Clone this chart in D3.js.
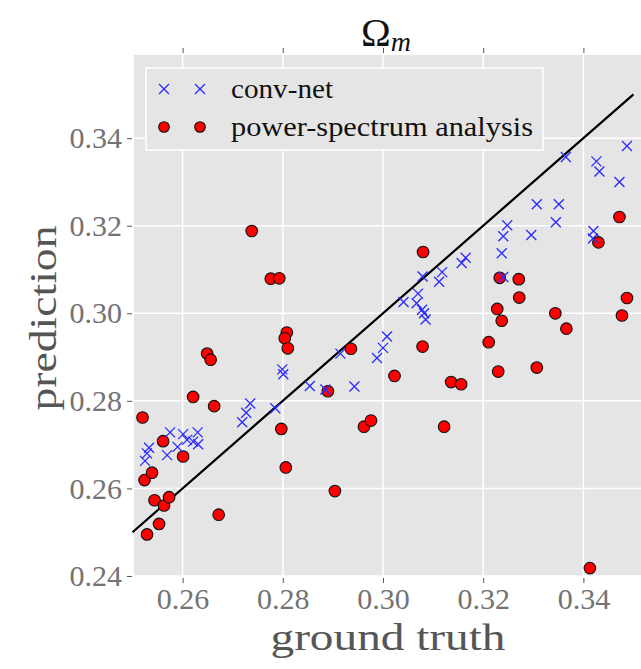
<!DOCTYPE html>
<meta charset="utf-8">
<style>
  body { margin: 0; background: #fff; }
  text { font-family: "Liberation Serif", "DejaVu Serif", serif; }
</style>
<body>
<svg width="641" height="669"></svg>
<script src="https://cdnjs.cloudflare.com/ajax/libs/d3/7.8.5/d3.min.js"></script>
<script>

// ground truth / prediction pairs
var convTruth = [0.2525, 0.2529, 0.2533, 0.2569, 0.2575, 0.2590, 0.2601, 0.2609, 0.2621, 0.2630,
                 0.2631, 0.2719, 0.2727, 0.2735, 0.2785, 0.2799, 0.2801, 0.2854, 0.2885, 0.2943,
                 0.2915, 0.2988, 0.3000, 0.3008, 0.3041, 0.3070, 0.3067, 0.3078, 0.3082, 0.3085,
                 0.3079, 0.3112, 0.3118, 0.3157, 0.3165, 0.3237, 0.3240, 0.3248, 0.3240, 0.3296,
                 0.3307, 0.3351, 0.3345, 0.3365, 0.3420, 0.3419, 0.3426, 0.3432, 0.3472, 0.3487];
var convPred  = [0.2663, 0.2680, 0.2693, 0.2676, 0.2728, 0.2695, 0.2724, 0.2711, 0.2707, 0.2728,
                 0.2701, 0.2751, 0.2773, 0.2794, 0.2783, 0.2872, 0.2861, 0.2834, 0.2826, 0.2833,
                 0.2908, 0.2898, 0.2921, 0.2947, 0.3026, 0.3045, 0.3023, 0.3008, 0.3000, 0.2986,
                 0.3084, 0.3072, 0.3094, 0.3115, 0.3127, 0.3137, 0.3176, 0.3201, 0.3083, 0.3179,
                 0.3249, 0.3249, 0.3208, 0.3357, 0.3188, 0.3171, 0.3347, 0.3324, 0.3300, 0.3382];

var psTruth = [0.2520, 0.2524, 0.2529, 0.2539, 0.2544, 0.2553, 0.2561, 0.2563, 0.2573, 0.2601,
               0.2621, 0.2649, 0.2656, 0.2663, 0.2672, 0.2738, 0.2776, 0.2793, 0.2797, 0.2806,
               0.2808, 0.2804, 0.2810, 0.2890, 0.2904, 0.2936, 0.2962, 0.2976, 0.3023, 0.3080,
               0.3079, 0.3122, 0.3136, 0.3156, 0.3211, 0.3230, 0.3228, 0.3233, 0.3237, 0.3271,
               0.3272, 0.3307, 0.3344, 0.3366, 0.3413, 0.3430, 0.3472, 0.3477, 0.3487];
var psPred  = [0.2762, 0.2619, 0.2495, 0.2636, 0.2573, 0.2519, 0.2708, 0.2561, 0.2580, 0.2673,
               0.2809, 0.2908, 0.2894, 0.2788, 0.2540, 0.3188, 0.3079, 0.3080, 0.2736, 0.2648,
               0.2956, 0.2943, 0.2920, 0.2822, 0.2594, 0.2919, 0.2741, 0.2755, 0.2857, 0.3140,
               0.2924, 0.2741, 0.2843, 0.2838, 0.2934, 0.2867, 0.3010, 0.3081, 0.2983, 0.3078,
               0.3036, 0.2876, 0.3000, 0.2965, 0.2418, 0.3162, 0.3220, 0.2995, 0.3035];

var xTicks = [0.26, 0.28, 0.30, 0.32, 0.34];
var yTicks = [0.24, 0.26, 0.28, 0.30, 0.32, 0.34];
var identity = [0.25, 0.35];

var svg = d3.select("svg");
var pLeft = 134, pRight = 641, pTop = 55, pBottom = 576;

var x = d3.scaleLinear().domain([0.2503, 0.3515]).range([pLeft, pRight]);
var y = d3.scaleLinear().domain([0.24, 0.359]).range([pBottom, pTop]);

svg.append("rect")
  .attr("x", pLeft).attr("y", pTop)
  .attr("width", pRight - pLeft).attr("height", pBottom - pTop)
  .attr("fill", "#e5e5e5");

// grid
svg.append("g").selectAll("line").data(xTicks).enter().append("line")
  .attr("x1", d => x(d)).attr("x2", d => x(d))
  .attr("y1", pTop).attr("y2", pBottom)
  .attr("stroke", "#fff").attr("stroke-width", 1.5);
svg.append("g").selectAll("line").data(yTicks).enter().append("line")
  .attr("x1", pLeft).attr("x2", pRight)
  .attr("y1", d => y(d)).attr("y2", d => y(d))
  .attr("stroke", "#fff").attr("stroke-width", 1.5);

// axes
var fmt = d3.format(".2f");
var xAxis = svg.append("g")
  .attr("transform", "translate(0," + (pBottom + 2) + ")")
  .call(d3.axisBottom(x).tickValues(xTicks).tickFormat(fmt).tickSize(5).tickPadding(5));
var xTop = svg.append("g")
  .attr("transform", "translate(0," + (pTop - 2) + ")")
  .call(d3.axisTop(x).tickValues(xTicks).tickFormat("").tickSize(5));
var yAxis = svg.append("g")
  .attr("transform", "translate(" + (pLeft - 2) + ",0)")
  .call(d3.axisLeft(y).tickValues(yTicks).tickFormat(fmt).tickSize(5).tickPadding(5));

[xAxis, xTop, yAxis].forEach(function(a) {
  a.select(".domain").remove();
  a.selectAll(".tick line").attr("stroke", "#555").attr("stroke-width", 1);
  a.selectAll(".tick text")
    .attr("fill", "#737373")
    .style("font-family", "'Liberation Serif', serif")
    .style("font-size", "30px");
});

// identity line
svg.append("path")
  .datum(identity)
  .attr("d", d3.line().x(d => x(d)).y(d => y(d)))
  .attr("stroke", "#000").attr("stroke-width", 2.2).attr("fill", "none");

// power spectrum points
var psData = psTruth.map((t, i) => ({t: t, p: psPred[i]}));
svg.append("g").selectAll("circle").data(psData).enter().append("circle")
  .attr("cx", d => x(d.t)).attr("cy", d => y(d.p))
  .attr("r", 5.8)
  .attr("fill", "red").attr("stroke", "#111").attr("stroke-width", 1.1);

// conv-net crosses
var convData = convTruth.map((t, i) => ({t: t, p: convPred[i]}));
var cross = "M-5,-5L5,5M-5,5L5,-5";
svg.append("g").selectAll("path").data(convData).enter().append("path")
  .attr("transform", d => "translate(" + x(d.t) + "," + y(d.p) + ")")
  .attr("d", cross)
  .attr("stroke", "#2a2aff").attr("stroke-width", 1.3).attr("fill", "none");

// legend
var lg = svg.append("g");
lg.append("rect")
  .attr("x", 146).attr("y", 68).attr("width", 397).attr("height", 82)
  .attr("fill", "#e5e5e5").attr("stroke", "#fff").attr("stroke-width", 1.5);
[164, 200].forEach(function(cx) {
  lg.append("path").attr("transform", "translate(" + cx + ",89)").attr("d", cross)
    .attr("stroke", "#2a2aff").attr("stroke-width", 1.3).attr("fill", "none");
  lg.append("circle").attr("cx", cx).attr("cy", 127).attr("r", 5.3)
    .attr("fill", "red").attr("stroke", "#111").attr("stroke-width", 1.1);
});
lg.append("text").attr("x", 231).attr("y", 98).attr("fill", "#111")
  .attr("textLength", 102).attr("lengthAdjust", "spacingAndGlyphs")
  .style("font-size", "27px").text("conv-net");
lg.append("text").attr("x", 231).attr("y", 136).attr("fill", "#111")
  .attr("textLength", 302).attr("lengthAdjust", "spacingAndGlyphs")
  .style("font-size", "27px").text("power-spectrum analysis");

// titles
var title = svg.append("text").attr("x", 386).attr("y", 46)
  .attr("text-anchor", "middle").attr("fill", "#111").style("font-size", "40px");
title.append("tspan").text("Ω");
title.append("tspan").attr("dy", 5).style("font-size", "28px").style("font-style", "italic").text("m");

svg.append("text").attr("x", 388).attr("y", 650)
  .attr("text-anchor", "middle").attr("fill", "#555").style("font-size", "38px")
  .attr("textLength", 235).attr("lengthAdjust", "spacingAndGlyphs")
  .text("ground truth");

svg.append("text")
  .attr("transform", "translate(56,318) rotate(-90)")
  .attr("text-anchor", "middle").attr("fill", "#555").style("font-size", "38px")
  .attr("textLength", 185).attr("lengthAdjust", "spacingAndGlyphs")
  .text("prediction");

</script>
</body>
